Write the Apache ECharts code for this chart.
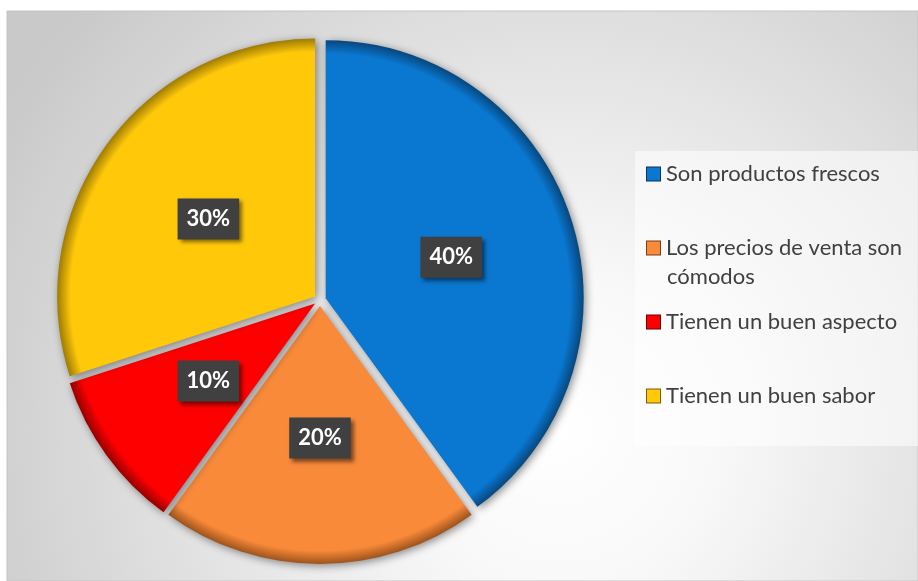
<!DOCTYPE html>
<html>
<head>
<meta charset="utf-8">
<script src="https://cdn.jsdelivr.net/npm/echarts@6/dist/echarts.min.js"></script>
<style>
  html, body { margin: 0; padding: 0; background: #ffffff; }
  #chart { width: 918px; height: 581px; }
</style>
</head>
<body>
<div id="chart"></div>
<script>
// Survey answers and their shares
const categories = [
  'Son productos frescos',
  'Los precios de venta son cómodos',
  'Tienen un buen aspecto',
  'Tienen un buen sabor'
];
const values = [40, 20, 10, 30];
// Legend lines (the second answer wraps onto two lines)
const legendLines = [
  ['Son productos frescos'],
  ['Los precios de venta son', 'cómodos'],
  ['Tienen un buen aspecto'],
  ['Tienen un buen sabor']
];

const baseColors = ['#0a77d0', '#f98a3a', '#ff0000', '#ffc90a'];
const edgeColors = ['#06355e', '#7a3e10', '#6e0000', '#7a5e00'];

const CX = 320, CY = 300, R = 258;

// Sector fill with a darkened rim for the bevel look
function sectorFill(i) {
  return {
    type: 'radial', x: CX, y: CY, r: R + 5, global: true,
    colorStops: [
      { offset: 0, color: baseColors[i] },
      { offset: 0.93, color: baseColors[i] },
      { offset: 1, color: edgeColors[i] }
    ]
  };
}

const rich = {
  t: { fontFamily: 'Lato', fontSize: 22, color: '#404040', lineHeight: 29 },
  sp: { width: 6, height: 14 },
  ind: { width: 20, height: 14 }
};
baseColors.forEach((c, i) => {
  rich['sq' + i] = {
    width: 13, height: 13, backgroundColor: c,
    borderColor: edgeColors[i], borderWidth: 1
  };
});

const chart = echarts.init(document.getElementById('chart'), null, { renderer: 'canvas' });

chart.setOption({
  animation: false,
  graphic: [
    {
      type: 'rect', z: -10, silent: true,
      shape: { x: 7, y: 11, width: 911, height: 570 },
      style: {
        fill: {
          type: 'radial', x: 560, y: 430, r: 640, global: true,
          colorStops: [
            { offset: 0, color: '#ffffff' },
            { offset: 0.25, color: '#f8f8f8' },
            { offset: 1, color: '#c9c9c9' }
          ]
        },
        stroke: '#c4c4c4', lineWidth: 1
      }
    },
    {
      type: 'rect', z: -9, silent: true,
      shape: { x: 635, y: 151, width: 283, height: 295 },
      style: { fill: 'rgba(255,255,255,0.55)' }
    }
  ],
  legend: {
    orient: 'vertical',
    left: 642,
    top: 163,
    padding: 0,
    icon: 'none',
    itemWidth: 0,
    itemHeight: 14,
    itemGap: 23,
    selectedMode: false,
    data: categories,
    formatter: function (name) {
      const i = categories.indexOf(name);
      const lines = legendLines[i];
      let s = '{sq' + i + '|}{sp|}{t|' + lines[0] + '}';
      if (lines.length > 1) {
        s += '\n{ind|}{t|' + lines[1] + '}';
      } else {
        s += '\n{t| }';
      }
      return s;
    },
    textStyle: { rich: rich }
  },
  series: [
    {
      type: 'pie',
      center: [CX, CY],
      radius: R,
      startAngle: 90,
      clockwise: true,
      selectedMode: 'multiple',
      selectedOffset: 6,
      emphasis: { scale: false },
      itemStyle: {
        shadowBlur: 8,
        shadowColor: 'rgba(0,0,0,0.45)',
        shadowOffsetX: 2,
        shadowOffsetY: 2
      },
      label: {
        show: true,
        position: 'inside',
        formatter: '{d}%',
        fontFamily: 'Lato',
        fontWeight: 'bold',
        fontSize: 22,
        color: '#ffffff',
        backgroundColor: '#404040',
        padding: [10, 9, 9, 9],
        shadowBlur: 4,
        shadowColor: 'rgba(0,0,0,0.5)',
        shadowOffsetX: 3,
        shadowOffsetY: 3
      },
      labelLine: { show: false },
      data: categories.map((name, i) => ({
        name: name,
        value: values[i],
        selected: true,
        itemStyle: { color: sectorFill(i) }
      }))
    }
  ]
});
</script>
</body>
</html>
